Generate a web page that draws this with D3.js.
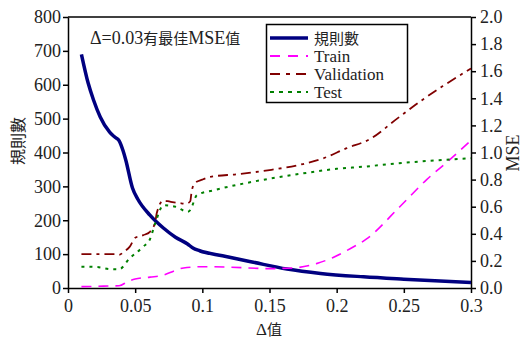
<!DOCTYPE html>
<html><head><meta charset="utf-8">
<script src="https://cdn.jsdelivr.net/npm/d3@7"></script>
<style>
body{margin:0;background:#fff;}
text{font-family:"Liberation Serif","Noto Sans CJK TC",serif;fill:#222;}
</style></head>
<body><svg id="c" width="524" height="339"></svg>
<script>
const xTicks=[0,0.05,0.1,0.15,0.2,0.25,0.3];
const xTickLabels=["0","0.05","0.1","0.15","0.2","0.25","0.3"];
const leftTicks=[0,100,200,300,400,500,600,700,800];
const rightTicks=[0,0.2,0.4,0.6,0.8,1.0,1.2,1.4,1.6,1.8,2.0];

const rulesX=[0.01,0.015,0.019,0.024,0.031,0.035,0.038,0.041,0.043,0.048,0.052,0.061,0.071,0.08,0.089,0.093,0.098,0.115,0.138,0.163,0.188,0.22,0.25,0.3];
const rulesY=[690,605,555,505,460,445,435,405,378,295,262,215,177,150,130,118,110,95,76,56,43,33,26,16];

const trainX=[0.01,0.02,0.03,0.038,0.045,0.05,0.061,0.071,0.08,0.086,0.1,0.117,0.15,0.17,0.185,0.197,0.21,0.222,0.247,0.267,0.284,0.3];
const trainY=[0.01,0.012,0.015,0.017,0.05,0.066,0.08,0.095,0.13,0.148,0.157,0.155,0.143,0.15,0.18,0.224,0.29,0.36,0.6,0.8,0.945,1.09];

const valX=[0.01,0.035,0.038,0.042,0.046,0.05,0.056,0.061,0.065,0.066,0.071,0.076,0.083,0.088,0.091,0.092,0.0945,0.1,0.106,0.126,0.15,0.175,0.19,0.207,0.225,0.245,0.264,0.279,0.3];
const valY=[0.25,0.25,0.245,0.27,0.305,0.37,0.39,0.415,0.49,0.55,0.645,0.637,0.627,0.622,0.64,0.71,0.775,0.80,0.82,0.84,0.87,0.915,0.957,1.03,1.10,1.25,1.39,1.49,1.62];

const testX=[0.01,0.0215,0.031,0.038,0.046,0.056,0.061,0.065,0.071,0.08,0.089,0.091,0.096,0.108,0.138,0.175,0.2,0.22,0.245,0.279,0.3];
const testY=[0.157,0.155,0.14,0.138,0.22,0.305,0.36,0.48,0.61,0.6,0.563,0.575,0.686,0.72,0.785,0.846,0.88,0.895,0.92,0.945,0.957];

const legendLabels=["規則數","Train","Validation","Test"];

const svg=d3.select("#c");
const L=68,R=471,T=17,B=288;
const x=d3.scaleLinear().domain([0,0.3]).range([L,R]);
const yL=d3.scaleLinear().domain([0,800]).range([B,T]);
const yR=d3.scaleLinear().domain([0,2]).range([B,T]);

const series=[
 {xs:rulesX,ys:rulesY,y:yL,color:"#000080",w:3.5,dash:null},
 {xs:trainX,ys:trainY,y:yR,color:"#ff00ff",w:1.6,dash:"10,7"},
 {xs:valX,ys:valY,y:yR,color:"#800000",w:1.8,dash:"10,5,3,5"},
 {xs:testX,ys:testY,y:yR,color:"#008000",w:2,dash:"3,5"}
];

svg.append("line").attr("x1",L).attr("x2",R).attr("y1",T).attr("y2",T).attr("stroke","#000").attr("stroke-width",1.5);

function styleAxis(g){
  g.attr("font-family",null);
  g.selectAll("path,line").attr("stroke","#000").attr("stroke-width",1.5);
  g.selectAll("text").style("font-size","18px").style("font-family",'"Liberation Serif",serif').attr("fill","#222");
}
const ax=svg.append("g").attr("transform",`translate(0,${B})`)
 .call(d3.axisBottom(x).tickValues(xTicks).tickFormat((d,i)=>xTickLabels[i]).tickSize(5).tickSizeOuter(0).tickPadding(6));
styleAxis(ax);
const al=svg.append("g").attr("transform",`translate(${L},0)`)
 .call(d3.axisLeft(yL).tickValues(leftTicks).tickSize(5).tickSizeOuter(0).tickPadding(2));
styleAxis(al);
const ar=svg.append("g").attr("transform",`translate(${R},0)`)
 .call(d3.axisRight(yR).tickValues(rightTicks).tickFormat(d3.format(".1f")).tickSize(5).tickSizeOuter(0).tickPadding(4));
styleAxis(ar);

series.forEach(s=>{
  const pts=s.xs.map((v,i)=>[v,s.ys[i]]);
  const line=d3.line().x(d=>x(d[0])).y(d=>s.y(d[1])).curve(d3.curveMonotoneX);
  svg.append("path").datum(pts).attr("d",line).attr("fill","none")
   .attr("stroke",s.color).attr("stroke-width",s.w).attr("stroke-dasharray",s.dash)
   .attr("stroke-linejoin","round");
});

svg.append("text").attr("transform","translate(24,141) rotate(-90)").attr("text-anchor","middle")
 .style("font-size","16px").style("font-family",'"Noto Sans CJK TC",sans-serif').text("規則數");
svg.append("text").attr("transform","translate(519,153) rotate(-90)").attr("text-anchor","middle")
 .style("font-size","18px").text("MSE");
const xt=svg.append("text").attr("x",269).attr("y",335).attr("text-anchor","middle").style("font-size","17px");
xt.append("tspan").text("Δ");
xt.append("tspan").style("font-family",'"Noto Sans CJK TC",sans-serif').style("font-size","15px").text("值");

const an=svg.append("text").attr("x",90).attr("y",44).style("font-size","18px");
an.append("tspan").text("Δ=0.03");
an.append("tspan").style("font-family",'"Noto Sans CJK TC",sans-serif').style("font-size","15px").text("有最佳");
an.append("tspan").text("MSE");
an.append("tspan").style("font-family",'"Noto Sans CJK TC",sans-serif').style("font-size","15px").text("值");

const lg=svg.append("g");
lg.append("rect").attr("x",266.5).attr("y",24.5).attr("width",141).attr("height",78)
 .attr("fill","#fff").attr("stroke","#000").attr("stroke-width",1.5);
const rowsY=[38,56,74,92];
series.forEach((s,i)=>{
  lg.append("line").attr("x1",270).attr("x2",308).attr("y1",rowsY[i]).attr("y2",rowsY[i])
   .attr("stroke",s.color).attr("stroke-width",i===0?3.5:2).attr("stroke-dasharray",i===1?"10,8":(i===2?"10,6,4,6":(i===3?"4,5":null)));
  const t=lg.append("text").attr("x",314).attr("y",rowsY[i]+6).style("font-size","17px").text(legendLabels[i]);
  if(i===0) t.style("font-family",'"Noto Sans CJK TC",sans-serif').style("font-size","15px");
});
</script></body></html>
